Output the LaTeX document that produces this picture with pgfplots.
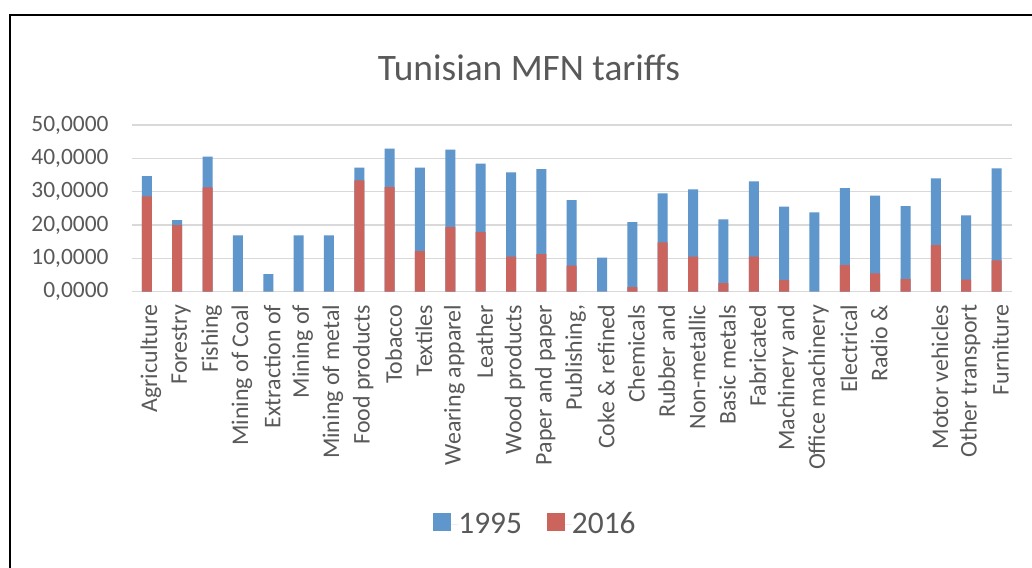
\documentclass[border=0pt]{standalone}
\usepackage{fontspec}
\setmainfont{Carlito}
\usepackage{pgfplots}
\pgfplotsset{compat=1.18}
\definecolor{cblue}{HTML}{5F96CB}
\definecolor{cred}{HTML}{CC645E}
\definecolor{txt}{HTML}{595959}
\definecolor{gridc}{HTML}{D9D9D9}
\pgfplotsset{sqlegend/.style={legend image code/.code={\fill[##1,draw=none] (0bp,-7bp) rectangle (18bp,11bp);\path (0bp,0bp) -- (25bp,0bp);}}}
\begin{document}
\begin{tikzpicture}
\path[use as bounding box] (0,0) rectangle (1032bp,568bp);
\fill[white] (0,0) rectangle (1032bp,568bp);
\draw[line width=2bp] (10bp,0) -- (10bp,553bp) -- (1032bp,553bp);
\node[text=txt, font=\fontsize{37.5}{40}\selectfont] at (529bp,500bp) {Tunisian MFN tariffs};
\begin{axis}[
  at={(131.7bp,276.3bp)}, anchor=south west,
  scale only axis, width=880bp, height=166.7bp,
  xmin=-0.5, xmax=28.5, ymin=0, ymax=50,
  axis line style={draw=none},
  major tick length=0pt,
  ymajorgrids, grid style={draw=gridc, line width=1.5bp},
  /pgf/number format/assume math mode=true,
  ytick={0,10,20,30,40,50},
  yticklabels={{0,0000},{10,0000},{20,0000},{30,0000},{40,0000},{50,0000}},
  yticklabel style={anchor=east, inner sep=0pt, xshift=-23bp, text=txt, font=\fontsize{23.5}{24}\selectfont},
  xtick={0,...,28},
  xticklabels={Agriculture, Forestry, Fishing, Mining of Coal, Extraction of, Mining of, Mining of metal, Food products, Tobacco, Textiles, Wearing apparel, Leather, Wood products, Paper and paper, {Publishing,}, Coke \& refined, Chemicals, Rubber and, Non-metallic, Basic metals, Fabricated, Machinery and, Office machinery, Electrical, Radio \&, {}, Motor vehicles, Other transport, Furniture},
  xticklabel style={rotate=90, anchor=east, inner ysep=0pt, inner xsep=0pt, xshift=-13bp, yshift=-4bp, text=txt, font=\fontsize{24}{24}\selectfont},
  legend style={at={(0.4577,-1.3936)}, anchor=center, draw=none, fill=none, legend columns=2,
    font=\fontsize{31.5}{31}\selectfont, text=txt,
    nodes={inner xsep=0pt},
    /tikz/every even column/.append style={column sep=25bp}},
  clip=false,
]
\addplot[ybar, bar width=10bp, bar shift=0pt, fill=cblue, draw=none, sqlegend] coordinates {
(0,34.7) (1,21.5) (2,40.5) (3,16.9) (4,5.3) (5,16.9) (6,16.9) (7,37.2) (8,42.9) (9,37.2)
(10,42.6) (11,38.4) (12,35.8) (13,36.8) (14,27.5) (15,10.2) (16,20.9) (17,29.5) (18,30.7) (19,21.7)
(20,33.1) (21,25.5) (22,23.8) (23,31.1) (24,28.8) (25,25.7) (26,34.0) (27,22.9) (28,37.0)};
\addlegendentry{1995}
\addplot[ybar, bar width=10bp, bar shift=0pt, fill=cred, draw=none, sqlegend] coordinates {
(0,28.6) (1,20.0) (2,31.3) (3,0) (4,0) (5,0) (6,0) (7,33.4) (8,31.4) (9,12.2)
(10,19.4) (11,17.9) (12,10.5) (13,11.3) (14,7.8) (15,0) (16,1.4) (17,14.8) (18,10.5) (19,2.6)
(20,10.5) (21,3.5) (22,0) (23,8.0) (24,5.5) (25,3.8) (26,14.0) (27,3.6) (28,9.4)};
\addlegendentry{2016}
\end{axis}
\end{tikzpicture}
\end{document}
